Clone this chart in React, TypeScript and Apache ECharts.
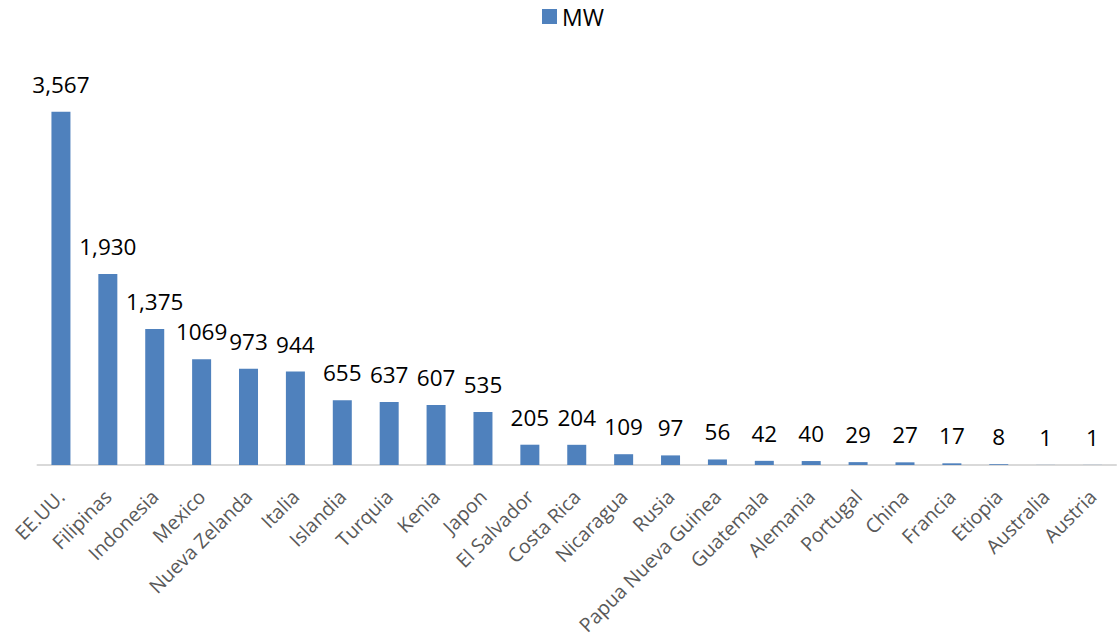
import React, { useEffect, useRef } from "react";
import * as echarts from "echarts";

const categories = [
  "EE.UU.", "Filipinas", "Indonesia", "Mexico", "Nueva Zelanda", "Italia", "Islandia",
  "Turquia", "Kenia", "Japon", "El Salvador", "Costa Rica", "Nicaragua", "Rusia",
  "Papua Nueva Guinea", "Guatemala", "Alemania", "Portugal", "China", "Francia",
  "Etiopia", "Australia", "Austria",
];
const mwValues = [3567, 1930, 1375, 1069, 973, 944, 655, 637, 607, 535, 205, 204, 109, 97, 56, 42, 40, 29, 27, 17, 8, 1, 1];
const valueLabels = [
  "3,567", "1,930", "1,375", "1069", "973", "944", "655", "637", "607", "535", "205", "204",
  "109", "97", "56", "42", "40", "29", "27", "17", "8", "1", "1",
];
const seriesName = "MW";

export default function App() {
  const ref = useRef<HTMLDivElement>(null);
  useEffect(() => {
    if (!ref.current) return;
    const chart = echarts.init(ref.current, undefined, { renderer: "svg" });
    chart.setOption({
      animation: false,
      backgroundColor: "#ffffff",
      legend: {
        data: [seriesName],
        left: 537,
        top: 0,
        icon: "rect",
        itemWidth: 15,
        itemHeight: 15,
        itemGap: 4,
        textStyle: { fontFamily: "Open Sans", fontSize: 23, color: "#000000" },
      },
      grid: {
        left: 37.5,
        right: 2,
        top: 69,
        bottom: 173,
        containLabel: false,
        outerBoundsMode: "none",
      },
      xAxis: {
        type: "category",
        data: categories,
        axisLine: { show: true, lineStyle: { color: "#d9d9d9", width: 2 } },
        axisTick: { show: false },
        axisLabel: {
          interval: 0,
          rotate: 45,
          margin: 28,
          fontFamily: "Open Sans",
          fontSize: 19.6,
          color: "#595959",
        },
      },
      yAxis: {
        type: "value",
        min: 0,
        max: 4000,
        show: false,
        splitLine: { show: false },
      },
      series: [
        {
          name: seriesName,
          type: "bar",
          data: mwValues,
          barWidth: 19,
          itemStyle: { color: "#4f81bd" },
          label: {
            show: true,
            position: "top",
            distance: 16,
            fontFamily: "Open Sans",
            fontSize: 22.5,
            color: "#000000",
            formatter: (p: any) => valueLabels[p.dataIndex],
          },
        },
      ],
    });
    return () => chart.dispose();
  }, []);
  return (
    <div
      ref={ref}
      style={{ position: "fixed", left: 0, top: 0, width: 1118, height: 638 }}
    />
  );
}
